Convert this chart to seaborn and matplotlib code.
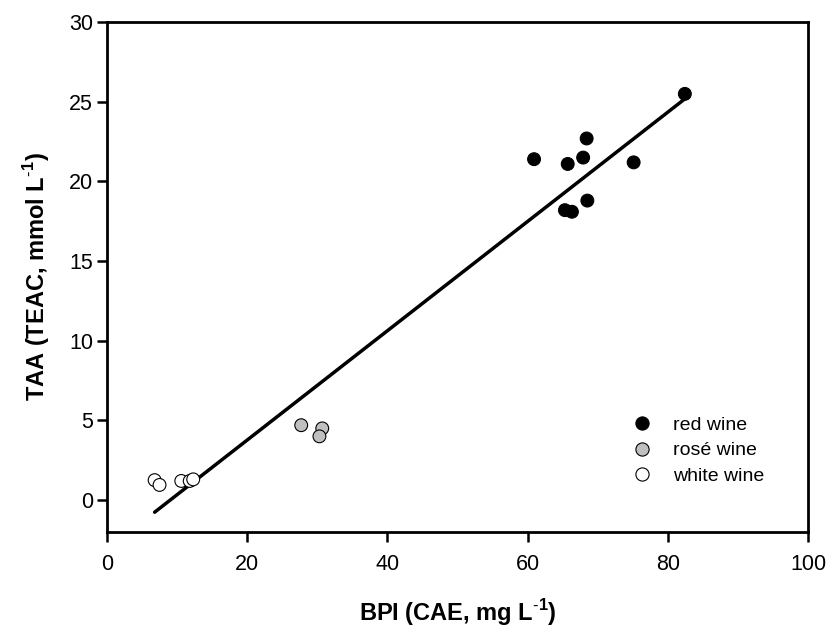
import matplotlib
matplotlib.use("Agg")
import matplotlib.pyplot as plt
import numpy as np
import pandas as pd
import seaborn as sns

# data
red_bpi = [82.4, 68.4, 65.7, 67.9, 75.1, 68.5, 65.3, 66.3, 60.9]
red_taa = [25.5, 22.7, 21.1, 21.5, 21.2, 18.8, 18.2, 18.1, 21.4]
rose_bpi = [27.7, 30.7, 30.3]
rose_taa = [4.7, 4.5, 4.0]
white_bpi = [6.8, 7.5, 10.6, 11.8, 12.3]
white_taa = [1.25, 0.95, 1.2, 1.2, 1.3]

df = pd.DataFrame({
    "bpi": red_bpi + rose_bpi + white_bpi,
    "taa": red_taa + rose_taa + white_taa,
    "wine": ["red wine"] * len(red_bpi) + ["rosé wine"] * len(rose_bpi)
    + ["white wine"] * len(white_bpi),
})

sns.set_style("ticks")
plt.rcParams["font.family"] = ["Liberation Sans", "DejaVu Sans"]
plt.rcParams["mathtext.fontset"] = "custom"
plt.rcParams["mathtext.rm"] = "Liberation Sans"
plt.rcParams["mathtext.bf"] = "Liberation Sans:bold"
for key in ["text.color", "axes.labelcolor", "xtick.color", "ytick.color",
            "axes.edgecolor"]:
    plt.rcParams[key] = "black"

fig = plt.figure(figsize=(8.29, 6.34), dpi=100)
ax = fig.add_axes([0.129, 0.161, 0.846, 0.804])

sns.regplot(data=df, x="bpi", y="taa", scatter=False, ci=None,
            color="black", line_kws={"linewidth": 2.5}, ax=ax)
sns.scatterplot(
    data=df, x="bpi", y="taa", hue="wine",
    palette={"red wine": "black", "rosé wine": "#c0c0c0", "white wine": "white"},
    edgecolor="black", linewidth=0.8, s=85, ax=ax, zorder=3,
)

ax.set_xlim(0, 100)
ax.set_ylim(-2, 30)
ax.set_xticks(range(0, 101, 20))
ax.set_yticks(range(0, 31, 5))
ax.set_xlabel(r"BPI (CAE, mg L$^{\mathbf{\text{-}1}}$)", fontsize=17,
              fontweight="bold", labelpad=16)
ax.set_ylabel(r"TAA (TEAC, mmol L$^{\mathbf{\text{-}1}}$)", fontsize=17,
              fontweight="bold", labelpad=12)
ax.tick_params(axis="both", labelsize=15.5, width=1.8, length=7,
               direction="out")
ax.tick_params(axis="x", pad=9)
ax.tick_params(axis="y", pad=3)
for sp in ax.spines.values():
    sp.set_linewidth(2)
    sp.set_visible(True)

leg = ax.legend(loc="upper left", frameon=False, fontsize=14,
                bbox_to_anchor=(0.731, 0.242), handletextpad=0.85,
                labelspacing=0.4, handlelength=1.5, borderaxespad=0)
for h in leg.legend_handles:
    h.set_markeredgecolor("black")
    h.set_markersize(9.5)

fig.savefig("out.png", dpi=100)
